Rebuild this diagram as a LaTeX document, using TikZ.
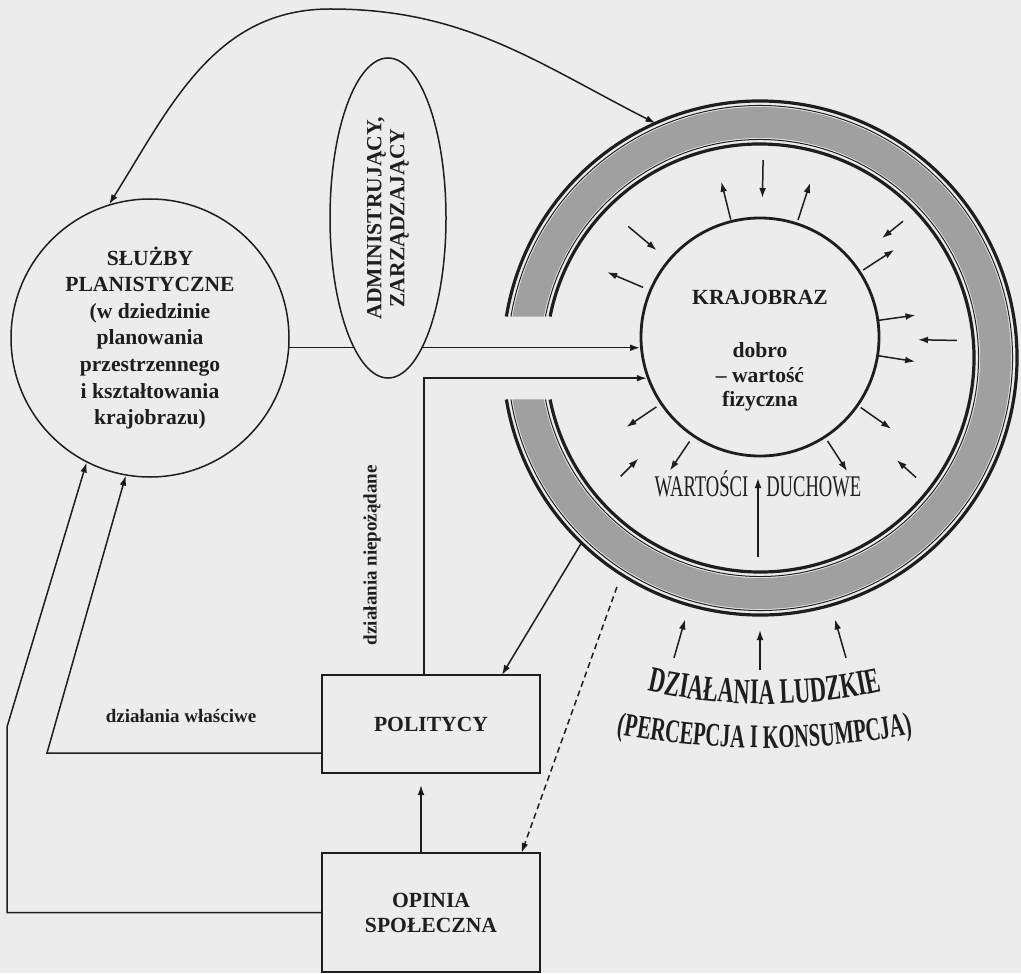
\documentclass[tikz,border=0pt]{standalone}
\usepackage{fontspec}
\setmainfont{Liberation Serif}
\newfontfamily\condfont[FakeStretch=0.62]{Liberation Serif}
\usepackage{tikz}
\usetikzlibrary{shapes.geometric,arrows.meta,calc,decorations.text,positioning}
\definecolor{paper}{RGB}{236,236,236}
\definecolor{ink}{RGB}{30,30,30}
\definecolor{band}{RGB}{160,160,160}

\begin{document}
\begin{tikzpicture}[x=0.5pt,y=0.5pt,>={Latex[length=5pt,width=3.4pt]},
    every node/.style={text=ink},
    txt/.style={font=\bfseries\fontsize{10.8}{12.5}\selectfont,align=center},
    panel/.style={draw=ink,line width=0.8pt,minimum width=109pt,inner sep=0pt,outer sep=0pt,txt},
    link/.style={draw=ink,line width=0.75pt},
    ray/.style={draw=ink,line width=0.75pt,->}]
        \useasboundingbox (0,0) rectangle (1021,-973);
        \fill[paper] (0,0) rectangle (1021,-973);
        \node [circle,draw=ink,line width=0.75pt,minimum size=139pt,inner sep=0pt,txt,
          font=\bfseries\fontsize{10.8}{13.3}\selectfont] (plan) at (150,-338)
          {SŁUŻBY\\PLANISTYCZNE\\(w dziedzinie\\planowania\\przestrzennego\\i kształtowania\\krajobrazu)};
        \node [circle,minimum size=257pt,inner sep=0pt,outer sep=0pt] (ring) at (760,-358) {};
        % ring, open on the left
        \pgfmathsetmacro\gapout{asin(41.5/251)}
        \pgfmathsetmacro\gapin{asin(41.5/220)}
        \fill[band] ($(ring.center)+({180-\gapout}:251)$) arc[start angle={180-\gapout},end angle={-180+\gapout},radius=251]
          -- ($(ring.center)+({-180+\gapin}:220)$) arc[start angle={-180+\gapin},end angle={180-\gapin},radius=220] -- cycle;
        \foreach \rad/\wd in {257/1.6pt,252.5/0.5pt,218.5/0.5pt,214/1.6pt} {
          \pgfmathsetmacro\gap{asin(41.5/\rad)}
          \draw[ink,line width=\wd] ($(ring.center)+({180-\gap}:\rad)$) arc[start angle={180-\gap},end angle={-180+\gap},radius=\rad];
        }
        \node [circle,draw=ink,line width=1.4pt,minimum size=119pt,inner sep=0pt] (land) at (760,-337) {};
        \node [txt,font=\bfseries\fontsize{10.8}{12.3}\selectfont] (landtxt) at ([yshift=-7pt]land.center)
          {KRAJOBRAZ\\[14pt]dobro\\– wartość\\fizyczna};
        \node [font=\condfont\fontsize{15}{15}\selectfont] (spirit) at (758,-484) {WARTOŚCI\hspace{9pt}DUCHOWE};
        % arrows round the landscape
        \foreach \ang/\ra/\rb in {89/177/139,104/121/160,72/123/162,140/172/135,39/184/157,33/123/160,
            157/127/166,8/119/157,-1/197/158,-9/119/157,-35/123/160,214/125/161,236/126/161,-57/124/160,
            225/197/172,-42/210/184}
          \draw[ray] ($(land.center)+(\ang:\ra)$) -- ($(land.center)+(\ang:\rb)$);
        \draw[ray] ([yshift=-36.5pt]spirit.center) -- ([yshift=3pt]spirit.center);
        \foreach \ang in {254,270,286}
          \draw[ray] ($(ring.center)+(\ang:312)$) -- ($(ring.center)+(\ang:272)$);
        % curved caption
        \coordinate (arcone) at (765,-174);
        \coordinate (arctwo) at (765,52);
        \path[decorate,decoration={text along path,text align=center,text color=ink,
            text={|\condfont\bfseries\fontsize{18}{18}\selectfont|DZIAŁANIA LUDZKIE}}]
          ($(arcone)+(252:530)$) arc[start angle=252,end angle=288,radius=530];
        \path[decorate,decoration={text along path,text align=center,text color=ink,
            text={|\condfont\bfseries\fontsize{16.5}{16.5}\selectfont|(PERCEPCJA I KONSUMPCJA)}}]
          ($(arctwo)+(255:800)$) arc[start angle=255,end angle=285,radius=800];
        % top loop
        \coordinate (peak) at (330,-9);
        \draw[link,<->] (plan.107) to[out=58,in=180] (peak) to[out=0,in=153] (ring.114);
        \draw[link,->] (plan.-4) -- (plan.-4 -| land.185);
        \node [ellipse,draw=ink,line width=0.75pt,fill=paper,rotate=90,minimum width=160pt,minimum height=58pt,
          inner sep=0pt,txt,font=\bfseries\fontsize{10.8}{11.5}\selectfont] (adm) at (388,-218)
          {ADMINISTRUJĄCY,\\ZARZĄDZAJĄCY};
        % boxes
        \node [panel,minimum height=49pt] (pol) at (431,-724) {POLITYCY};
        \node [panel,minimum height=59.5pt,below=40pt of pol] (opin) {OPINIA\\SPOŁECZNA};
        \draw[link,->] ([xshift=-3.5pt]pol.north) |- (land.200);
        \node [txt,font=\bfseries\fontsize{9.5}{11}\selectfont,rotate=90] (unwanted) at (372,-555) {działania niepożądane};
        \coordinate (bendin) at (47,-753);
        \draw[link,->] ([yshift=-14.5pt]pol.west) -- (bendin) -- (plan.260);
        \node [txt,font=\bfseries\fontsize{9.5}{11}\selectfont] (proper) at (181,-716) {działania właściwe};
        \coordinate (bendout) at (7,-727);
        \draw[link,->] (opin.west) -| (bendout) -- (plan.243);
        \draw[link,->] (ring.226) -- ($(pol.north)!0.65!(pol.north east)$);
        \draw[link,->,dash pattern=on 3pt off 2pt] ($(ring.238)+(238:13)$) -- ($(opin.north)!0.83!(opin.north east)$);
        \draw[link,->,shorten >=6pt] ([xshift=-5pt]opin.north) -- ([xshift=-5pt]pol.south);
    \end{tikzpicture}
\end{document}
